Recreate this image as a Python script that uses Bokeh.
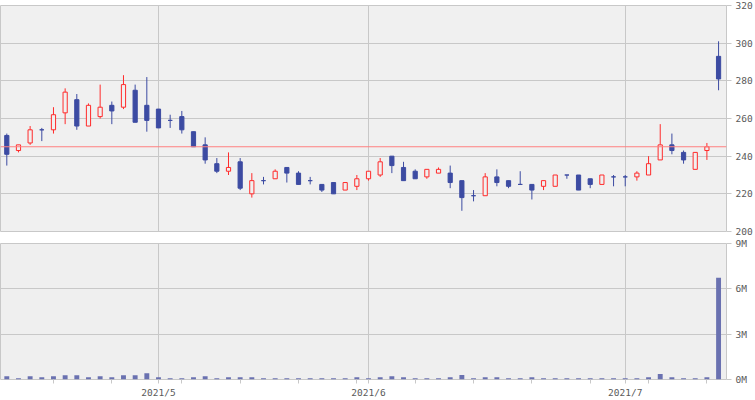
import pandas as pd
from bokeh.plotting import figure
from bokeh.models import ColumnDataSource, Range1d, FixedTicker, Span
from bokeh.layouts import column
from bokeh.embed import file_html
from bokeh.resources import INLINE

# ---- data ----
start_date = "2021-04-13"
end_date = "2021-07-13"
holidays = ["2021-04-29", "2021-05-03", "2021-05-04", "2021-05-05"]

opens = [251, 243, 247, 254, 254, 263, 270, 256, 261, 267,
         266, 275, 267, 265, 259, 261, 253, 246, 236, 232,
         237, 220, 227, 228, 234, 231, 227, 225, 226, 222,
         224, 228, 230, 240, 234, 232, 229, 231, 231, 227,
         219, 219, 229, 227, 225, 225, 224, 224, 230, 230,
         228, 225, 229, 229, 229, 230, 238, 246, 242, 233,
         243, 293]
highs = [252, 246, 256, 255, 266, 276, 273, 268, 278, 269,
         283, 278, 282, 265, 262, 264, 253, 250, 239, 242,
         239, 231, 229, 233, 234, 232, 229, 225, 226, 226,
         230, 232, 239, 240, 237, 233, 233, 234, 235, 227,
         222, 231, 233, 227, 232, 225, 227, 230, 230, 230,
         228, 230, 230, 230, 232, 240, 257, 252, 243, 242,
         247, 301]
lows = [235, 242, 246, 248, 252, 257, 254, 256, 260, 257,
        265, 258, 253, 255, 255, 252, 245, 236, 231, 230,
        222, 218, 225, 228, 226, 225, 225, 221, 220, 222,
        222, 227, 229, 231, 227, 228, 228, 231, 223, 211,
        216, 219, 224, 223, 225, 217, 222, 224, 228, 222,
        223, 225, 224, 224, 227, 230, 238, 241, 236, 233,
        238, 275]
closes = [241, 246, 254, 254, 262, 274, 256, 267, 266, 264,
          278, 258, 259, 255, 259, 254, 245, 238, 232, 234,
          223, 227, 227, 232, 231, 225, 227, 222, 220, 226,
          228, 232, 237, 235, 227, 228, 233, 233, 226, 218,
          219, 229, 226, 224, 225, 222, 227, 230, 230, 222,
          225, 230, 229, 229, 231, 236, 246, 243, 238, 242,
          245, 281]
volume_m = [0.21, 0.09, 0.21, 0.15, 0.21, 0.28, 0.28, 0.15, 0.21, 0.15,
            0.28, 0.28, 0.41, 0.15, 0.09, 0.09, 0.15, 0.21, 0.09, 0.15,
            0.15, 0.15, 0.09, 0.09, 0.09, 0.09, 0.09, 0.09, 0.09, 0.09,
            0.15, 0.09, 0.15, 0.21, 0.15, 0.09, 0.09, 0.09, 0.15, 0.30,
            0.09, 0.15, 0.15, 0.09, 0.09, 0.15, 0.09, 0.09, 0.09, 0.09,
            0.09, 0.09, 0.09, 0.09, 0.09, 0.15, 0.36, 0.15, 0.09, 0.09,
            0.15, 6.73]
ref_price = 245
price_ticks = [200, 220, 240, 260, 280, 300, 320]
volume_ticks = [0, 3, 6, 9]
volume_tick_labels = ["0M", "3M", "6M", "9M"]

# ---- styling ----
BG = "#f0f0f0"
GRID = "#c8c8c8"
RED = "#ff2b2b"
BLUE = "#3c4ba2"
VOL = "#6a71b0"
TXT = "#5a5a5a"
FONT = "DejaVu Sans Mono"
FSIZE = "9.5px"

days = [d for d in pd.bdate_range(start_date, end_date)
        if d.strftime("%Y-%m-%d") not in holidays]
xs = list(range(len(days)))
month_idx = [i for i in xs if i > 0 and days[i].month != days[i - 1].month]
month_labels = {i: f"{days[i].year}/{days[i].month}" for i in month_idx}
week_idx = [i for i in xs if days[i].weekday() == 0]
bottom_ticks = sorted(set(week_idx) | set(month_idx))
bottom_overrides = {i: month_labels.get(i, "") for i in bottom_ticks}

up = [c > o for o, c in zip(opens, closes)]
src = ColumnDataSource(dict(
    x=xs, o=opens, h=highs, l=lows, c=closes,
    top=[max(o, c) for o, c in zip(opens, closes)],
    bottom=[min(o, c) for o, c in zip(opens, closes)],
    color=[RED if u else BLUE for u in up],
    fill=[BG if u else BLUE for u in up],
    vol=volume_m,
))

x_range = Range1d(-0.54, len(xs) - 0.32)


def style_axis(ax):
    ax.axis_line_color = None
    ax.major_tick_line_color = GRID
    ax.minor_tick_line_color = None
    ax.major_tick_in = 0
    ax.major_label_text_font = FONT
    ax.major_label_text_font_size = FSIZE
    ax.major_label_text_color = TXT


p1 = figure(width=755, height=237, x_range=x_range, y_range=Range1d(200, 320),
            output_backend="svg", toolbar_location=None,
            x_axis_location=None, y_axis_location="right",
            min_border_left=0, min_border_right=27, min_border_top=5, min_border_bottom=6,
            background_fill_color=BG, border_fill_color="white",
            outline_line_color=GRID)
p1.segment(x0="x", y0="h", x1="x", y1="l", source=src, line_color="color", line_width=1)
p1.vbar(x="x", width=0.36, top="top", bottom="bottom", source=src,
        fill_color="fill", line_color="color", line_width=1)
p1.add_layout(Span(location=ref_price, dimension="width", line_color="#ff8080", line_width=1))
p1.yaxis.ticker = FixedTicker(ticks=price_ticks)
p1.ygrid.ticker = FixedTicker(ticks=price_ticks)
p1.xgrid.ticker = FixedTicker(ticks=month_idx)
for g in (p1.xgrid, p1.ygrid):
    g.grid_line_color = GRID
    g.grid_line_width = 1
style_axis(p1.yaxis[0])
p1.yaxis.major_tick_out = 5
p1.yaxis.major_label_standoff = 4

p2 = figure(width=755, height=163, x_range=x_range, y_range=Range1d(0, 9),
            output_backend="svg", toolbar_location=None,
            x_axis_location="below", y_axis_location="right",
            min_border_left=0, min_border_right=27, min_border_top=6, min_border_bottom=18,
            background_fill_color="#efefef", border_fill_color="white",
            outline_line_color=GRID)
p2.vbar(x="x", width=0.42, top="vol", bottom=0, source=src,
        fill_color=VOL, line_color=None)
p2.yaxis.ticker = FixedTicker(ticks=volume_ticks)
p2.yaxis.major_label_overrides = dict(zip(volume_ticks, volume_tick_labels))
p2.ygrid.ticker = FixedTicker(ticks=volume_ticks)
p2.xaxis.ticker = FixedTicker(ticks=bottom_ticks)
p2.xaxis.major_label_overrides = bottom_overrides
p2.xgrid.ticker = FixedTicker(ticks=month_idx)
for g in (p2.xgrid, p2.ygrid):
    g.grid_line_color = GRID
    g.grid_line_width = 1
style_axis(p2.yaxis[0])
style_axis(p2.xaxis[0])
p2.yaxis.major_tick_out = 5
p2.yaxis.major_label_standoff = 4
p2.xaxis.major_tick_out = 4
p2.xaxis.major_label_standoff = 3

layout = column(p1, p2, spacing=0)
open("out.html", "w").write(file_html(layout, INLINE))
